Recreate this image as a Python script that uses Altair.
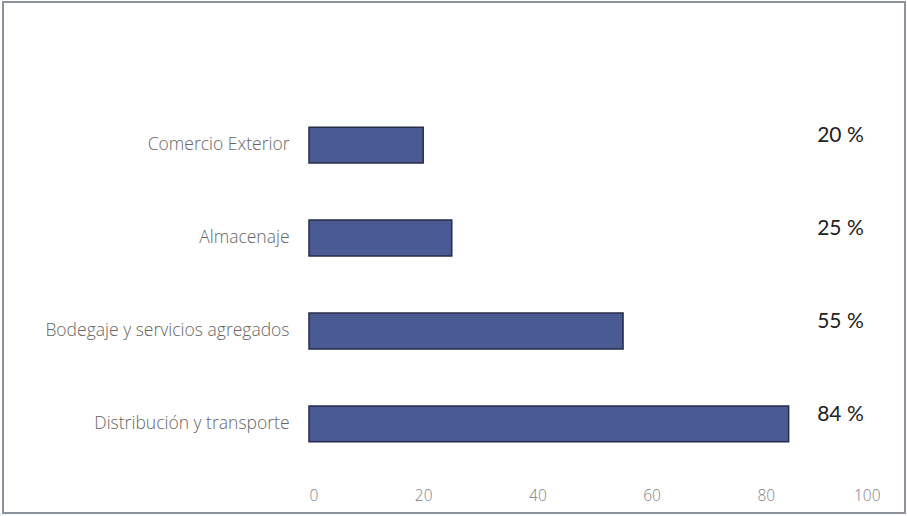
import altair as alt
import pandas as pd

categories = ["Comercio Exterior", "Almacenaje", "Bodegaje y servicios agregados", "Distribución y transporte"]
values = [20, 25, 55, 84]
labels = ["20 %", "25 %", "55 %", "84 %"]
x_ticks = [0, 20, 40, 60, 80, 100]

df = pd.DataFrame({"cat": categories, "val": values, "lab": labels})

y_enc = alt.Y("cat:N", sort=categories,
              scale=alt.Scale(paddingInner=0.613, paddingOuter=0.4),
              axis=alt.Axis(title=None, ticks=False, domain=False, labelPadding=20,
                            labelFontSize=17.5, labelColor="#666666", labelFont="Open Sans",
                            labelFontWeight=300, labelLimit=400))

bars = alt.Chart(df).mark_bar(color="#4a5a92", stroke="#262d48", strokeWidth=1.5).encode(
    x=alt.X("val:Q", scale=alt.Scale(domain=[0, 100]),
            axis=alt.Axis(title=None, values=x_ticks, grid=False, ticks=False, domain=False,
                          labelPadding=9, labelFontSize=15.5, labelColor="#808080",
                          labelFont="Open Sans", labelFontWeight=300)),
    y=y_enc,
)

text = alt.Chart(df).mark_text(align="left", baseline="middle", dy=-9, fontSize=21,
                               font="Lato", color="#222222").encode(
    x=alt.datum(89),
    y=alt.Y("cat:N", sort=categories),
    text="lab:N",
)

frame = alt.Chart(df).mark_rect(fill=None, stroke="#8d929c", strokeWidth=1.5).encode(
    x=alt.value(-306), x2=alt.value(596), y=alt.value(-88), y2=alt.value(423)
)

chart = alt.layer(frame, bars, text).properties(
    width=571, height=389,
    autosize=alt.AutoSizeParams(type="none"),
    padding={"left": 309, "top": 90, "right": 27, "bottom": 37},
    background="white",
).configure_view(stroke=None)

chart.save("out.html", embed_options={"renderer": "svg", "actions": False})
